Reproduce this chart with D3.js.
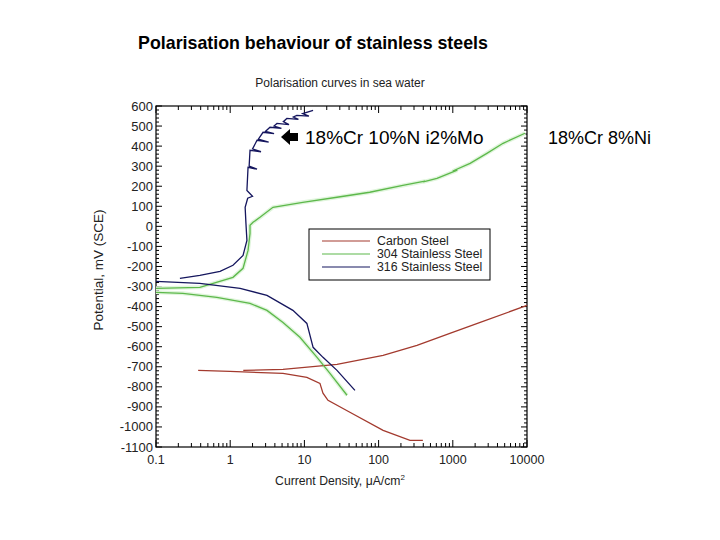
<!DOCTYPE html>
<html><head><meta charset="utf-8">
<script src="https://cdn.jsdelivr.net/npm/d3@7"></script>
<style>body{margin:0;background:#fff;} text{font-family:"Liberation Sans",Arial,sans-serif;}</style>
</head><body>
<svg id="c" width="720" height="540"></svg>
<script>
// ---- data (current density µA/cm², potential mV SCE) ----
const carbonCathI = [0.37, 0.99, 5.15, 10.8, 16.2, 17.8, 20.8, 41, 115, 265, 395];
const carbonCathE = [-718, -723, -733, -753, -783, -832, -867, -927, -1017, -1067, -1067];
const carbonAnodI = [1.5, 5.15, 27.5, 115, 329, 912, 2340, 10000];
const carbonAnodE = [-718, -713, -688, -643, -593, -533, -479, -394];

const ss304AnodI = [0.1, 0.39, 1.09, 1.49, 1.74, 1.85, 1.85, 2.03, 2.52, 3.77, 9.5, 27.5, 76, 212, 420, 400, 612, 1150, 1000, 1710, 2880, 4760, 9400];
const ss304AnodE = [-309, -304, -254, -209, -120, -35, 5, 20, 45, 95, 120, 145, 170, 204, 225, 222, 239, 280, 276, 314, 364, 414, 464];
const ss304CathI = [0.1, 0.23, 0.66, 1.85, 3.13, 5.15, 8.7, 14.8, 22.1, 37.5];
const ss304CathE = [-329, -334, -354, -384, -419, -479, -553, -653, -733, -842];

const ss316AnodI = [0.21, 0.39, 0.73, 1.09, 1.49, 1.68, 1.63, 1.59, 1.72, 2.0, 1.68, 1.74, 2.3, 1.8, 1.85, 2.6, 2.0, 2.3, 3.3, 2.4, 2.77, 3.9, 3.0, 3.44, 4.9, 3.9, 4.27, 6.2, 5.2, 5.8, 8.3, 7.1, 7.9, 11.5, 9.5, 13.1];
const ss316AnodE = [-259, -244, -224, -194, -145, -70, 15, 95, 140, 150, 179, 294, 285, 300, 379, 372, 386, 429, 420, 435, 469, 462, 474, 494, 488, 500, 513, 507, 522, 538, 533, 545, 553, 550, 562, 578];
const ss316CathI = [0.1, 0.39, 1.36, 3.13, 7.0, 10.8, 13.1, 17.8, 27.5, 48];
const ss316CathE = [-274, -284, -309, -344, -419, -484, -603, -653, -718, -818];

const xTicks = [0.1, 1, 10, 100, 1000, 10000];
const xTickLabels = ["0.1", "1", "10", "100", "1000", "10000"];
const yTicks = [600, 500, 400, 300, 200, 100, 0, -100, -200, -300, -400, -500, -600, -700, -800, -900, -1000, -1100];
const legendNames = ["Carbon Steel", "304 Stainless Steel", "316 Stainless Steel"];
const colors = ["#a33a2e", "#5db84b", "#15165e"];

// ---- layout ----
const svg = d3.select("#c");
const L = 156, R = 527, T = 106, B = 447;
const x = d3.scaleLog().domain([0.1, 10000]).range([L, R]);
const y = d3.scaleLinear().domain([-1100, 600]).range([B, T]);

svg.append("text").attr("x", 313).attr("y", 49).attr("text-anchor", "middle")
  .attr("font-size", 17.8).attr("font-weight", "bold").text("Polarisation behaviour of stainless steels");
svg.append("text").attr("x", 340).attr("y", 87).attr("text-anchor", "middle")
  .attr("font-size", 12).attr("fill", "#222").text("Polarisation curves in sea water");

// minor ticks
const minorY = d3.range(-1100, 601, 20);
const minorX = [];
for (let d = 0.1; d < 10000; d *= 10) for (let k = 2; k <= 9; k++) minorX.push(d * k);
const g = svg.append("g").attr("stroke", "#000").attr("stroke-width", 1);
minorY.forEach(v => {
  const len = (v % 100 === 0) ? 6 : 3;
  g.append("line").attr("x1", L).attr("x2", L + len).attr("y1", y(v)).attr("y2", y(v));
  g.append("line").attr("x1", R).attr("x2", R - len).attr("y1", y(v)).attr("y2", y(v));
});
minorX.concat(xTicks).forEach(v => {
  const len = xTicks.includes(v) ? 7 : 4;
  g.append("line").attr("x1", x(v)).attr("x2", x(v)).attr("y1", B).attr("y2", B - len);
  g.append("line").attr("x1", x(v)).attr("x2", x(v)).attr("y1", T).attr("y2", T + len);
});
svg.append("rect").attr("x", L).attr("y", T).attr("width", R - L).attr("height", B - T)
  .attr("fill", "none").attr("stroke", "#000").attr("stroke-width", 1.2);

// tick labels
svg.append("g").selectAll("text").data(yTicks).join("text")
  .attr("x", L - 3).attr("y", d => y(d)).attr("dy", "0.35em").attr("text-anchor", "end")
  .attr("font-size", 13).attr("fill", "#222").text(d => d);
svg.append("g").selectAll("text").data(xTicks).join("text")
  .attr("x", d => x(d)).attr("y", B + 17).attr("text-anchor", "middle")
  .attr("font-size", 12.5).attr("fill", "#222").text((d, i) => xTickLabels[i]);

// axis titles
svg.append("text").attr("transform", "translate(103,270) rotate(-90)").attr("text-anchor", "middle")
  .attr("font-size", 13.5).attr("fill", "#222").text("Potential, mV (SCE)");
const xt = svg.append("text").attr("x", 340).attr("y", 485).attr("text-anchor", "middle")
  .attr("font-size", 12.2).attr("fill", "#222");
xt.append("tspan").text("Current Density, μA/cm");
xt.append("tspan").attr("dy", -5).attr("font-size", 8).text("2");

// curves
const line = d3.line().x(d => x(d[0])).y(d => y(d[1]));
const zip = (a, b) => a.map((v, i) => [v, b[i]]);
const series = [
  [zip(carbonCathI, carbonCathE), 0], [zip(carbonAnodI, carbonAnodE), 0],
  [zip(ss304AnodI, ss304AnodE), 1], [zip(ss304CathI, ss304CathE), 1],
  [zip(ss316AnodI, ss316AnodE), 2], [zip(ss316CathI, ss316CathE), 2]
];
const cg = svg.append("g").attr("fill", "none");
series.filter(s => s[1] === 1).forEach(s => cg.append("path").attr("d", line(s[0]))
  .attr("stroke", "#e0f5dc").attr("stroke-width", 4));
series.forEach(s => cg.append("path").attr("d", line(s[0]))
  .attr("stroke", colors[s[1]]).attr("stroke-width", s[1] === 1 ? 1.3 : 1.3));

// legend
const lg = svg.append("g");
lg.append("rect").attr("x", 309).attr("y", 229).attr("width", 181).attr("height", 51)
  .attr("fill", "#fff").attr("stroke", "#000").attr("stroke-width", 1);
legendNames.forEach((n, i) => {
  const yy = 241 + i * 13;
  lg.append("line").attr("x1", 322).attr("x2", 370).attr("y1", yy).attr("y2", yy)
    .attr("stroke", colors[i]).attr("stroke-width", 1.2);
  lg.append("text").attr("x", 377).attr("y", yy).attr("dy", "0.35em").attr("font-size", 12.3)
    .attr("fill", "#222").text(n);
});

// annotations
svg.append("path").attr("d", "M281,137 L290,129 L290,133 L298,133 L298,141 L290,141 L290,145 Z").attr("fill", "#000");
svg.append("text").attr("x", 305).attr("y", 144).attr("font-size", 19).text("18%Cr 10%N i2%Mo");
svg.append("text").attr("x", 548).attr("y", 144).attr("font-size", 18).text("18%Cr 8%Ni");
</script>
</body></html>
